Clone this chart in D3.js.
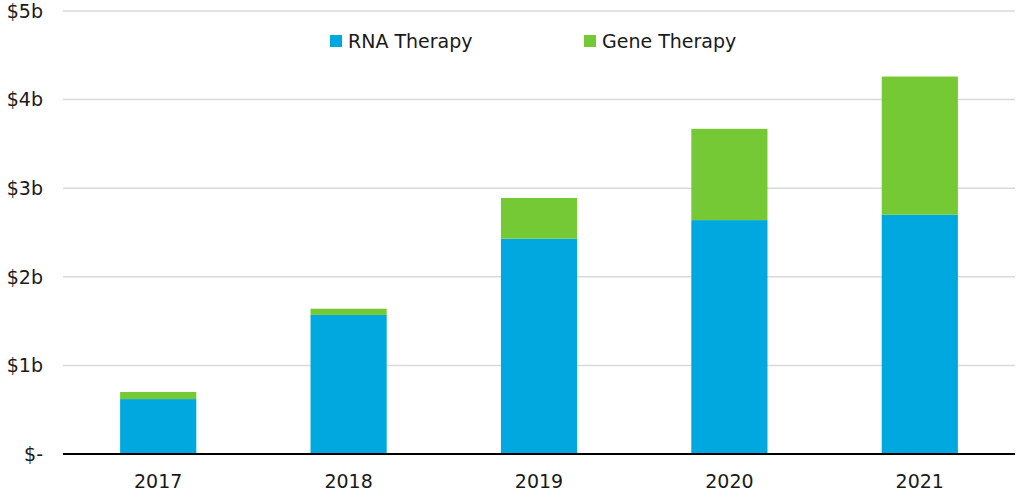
<html>
<head>
<meta charset="utf-8" />
<script src="https://cdn.jsdelivr.net/npm/d3@7/dist/d3.min.js"></script>
<style>
body { margin: 0; background: #fff; }
text { font-family: "DejaVu Sans", sans-serif; fill: #1a1a1a; }
</style>
</head>
<body>
<svg id="chart" width="1020" height="492"></svg>
<script>

var years = ["2017", "2018", "2019", "2020", "2021"];
var rna = [0.62, 1.57, 2.43, 2.64, 2.70];
var gene = [0.08, 0.07, 0.46, 1.03, 1.56];
var yTicks = [0, 1, 2, 3, 4, 5];
var yTickLabels = ["$-", "$1b", "$2b", "$3b", "$4b", "$5b"];
var seriesNames = ["RNA Therapy", "Gene Therapy"];
var colors = ["#00a8e0", "#74c934"];

var margin = {top: 11, right: 5, bottom: 38, left: 63};
var svgWidth = 1020, svgHeight = 492;
var width = svgWidth - margin.left - margin.right;
var height = svgHeight - margin.top - margin.bottom;

var svg = d3.select("#chart");
var g = svg.append("g").attr("transform", "translate(" + margin.left + "," + margin.top + ")");

var x = d3.scaleBand()
    .domain(years)
    .range([0, width])
    .paddingInner(0.6)
    .paddingOuter(0.3);

var y = d3.scaleLinear()
    .domain([0, 5])
    .range([height, 0]);

// gridlines
g.selectAll(".grid")
    .data(yTicks.slice(1))
    .enter().append("line")
    .attr("x1", 0).attr("x2", width)
    .attr("y1", d => y(d)).attr("y2", d => y(d))
    .attr("stroke", "#d9d9d9")
    .attr("stroke-width", 1.5);

// y labels
g.selectAll(".ylab")
    .data(yTicks)
    .enter().append("text")
    .attr("x", -20)
    .attr("y", d => y(d))
    .attr("dy", "0.36em")
    .attr("text-anchor", "end")
    .style("font-size", "19px")
    .text((d, i) => yTickLabels[i]);

// stacked bars
var rows = years.map((yr, i) => ({year: yr, rna: rna[i], gene: gene[i]}));
var stack = d3.stack().keys(["rna", "gene"])(rows);

g.selectAll(".series")
    .data(stack)
    .enter().append("g")
    .attr("fill", (d, i) => colors[i])
    .selectAll("rect")
    .data(d => d)
    .enter().append("rect")
    .attr("x", d => x(d.data.year))
    .attr("width", x.bandwidth())
    .attr("y", d => y(d[1]))
    .attr("height", d => y(d[0]) - y(d[1]));

// baseline
g.append("line")
    .attr("x1", 0).attr("x2", width)
    .attr("y1", y(0)).attr("y2", y(0))
    .attr("stroke", "#000")
    .attr("stroke-width", 2);

// x labels
g.selectAll(".xlab")
    .data(years)
    .enter().append("text")
    .attr("x", d => x(d) + x.bandwidth() / 2)
    .attr("y", height + 34)
    .attr("text-anchor", "middle")
    .style("font-size", "19px")
    .text(d => d);

// legend
var legendX = [330, 584];
var legend = svg.selectAll(".legend")
    .data(seriesNames)
    .enter().append("g")
    .attr("transform", (d, i) => "translate(" + legendX[i] + ",35)");
legend.append("rect")
    .attr("width", 12).attr("height", 12)
    .attr("fill", (d, i) => colors[i]);
legend.append("text")
    .attr("x", 18)
    .attr("y", 6)
    .attr("dy", "0.36em")
    .style("font-size", "19px")
    .text(d => d);

</script>
</body>
</html>
